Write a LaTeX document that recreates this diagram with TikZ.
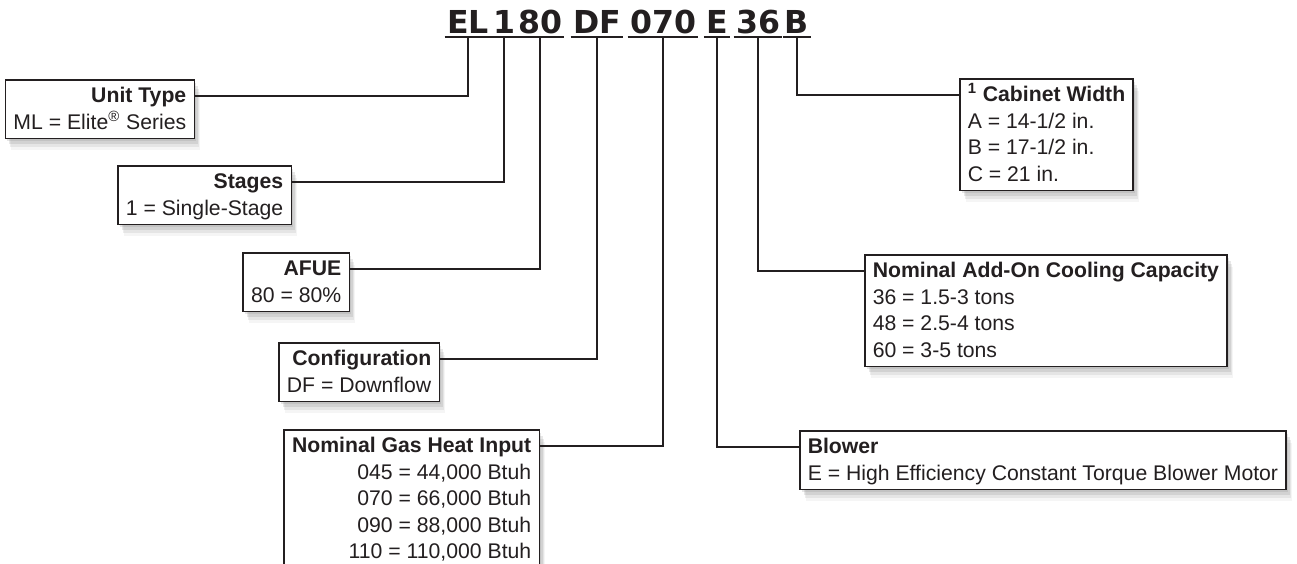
\documentclass[tikz,border=0pt]{standalone}
\usepackage{fontspec}
\setmainfont{Liberation Sans}
\newfontfamily\codefont{DejaVu Sans}
\usetikzlibrary{shadows}
\definecolor{ink}{HTML}{231F20}
\newcommand{\rcol}[1]{\begin{tabular}[t]{@{}r@{}}#1\end{tabular}}
\newcommand{\lcol}[1]{\begin{tabular}[t]{@{}l@{}}#1\end{tabular}}

\tikzset{
  infobox/.style={draw=ink, line width=0.75pt, fill=white, text=ink,
    inner xsep=4pt, inner ysep=0pt, text height=11.5pt,
    font=\fontsize{10.6pt}{13.25pt}\selectfont,
    drop shadow={shadow xshift=1pt, shadow yshift=-1.5pt, opacity=.2},
    drop shadow={shadow xshift=2pt, shadow yshift=-3pt, opacity=.18},
    drop shadow={shadow xshift=2.5pt, shadow yshift=-4.5pt, opacity=.14},
    drop shadow={shadow xshift=3pt, shadow yshift=-6pt, opacity=.08}},
  leftbox/.style={infobox, anchor=north east},
  rightbox/.style={infobox, anchor=north west},
  code/.style={font=\codefont\bfseries\fontsize{15.8pt}{16pt}\selectfont,
    text=ink, inner xsep=1pt, inner ysep=0pt, anchor=base},
  link/.style={draw=ink, line width=1pt}
}

\begin{document}
\begin{tikzpicture}[x=0.5pt, y=-0.5pt]
  \useasboundingbox (0,0) rectangle (1297,563);

  \foreach \n/\t/\x in {c1/EL/468, c2/1/504, c3/80/540, c4/DF/597,
                        c5/070/663, c6/E/717, c7/36/758, c8/B/797}
    \node[code] (\n) at (\x,33) {\t};
  \foreach \n in {c1,c2,c3,c4,c5,c6,c7,c8}
    \draw[link] ([yshift=-2pt]\n.base west) -- ([yshift=-2pt]\n.base east);

  \node[leftbox, text depth=17.75pt] (unit) at (195,79)
    {\rcol{\textbf{Unit Type}\\ML = Elite\textsuperscript{\textregistered} Series}};
  \node[leftbox, text depth=17.75pt] (stages) at (292,165)
    {\rcol{\textbf{Stages}\\1 = Single-Stage}};
  \node[leftbox, text depth=17.75pt] (afue) at (350,252)
    {\rcol{\textbf{AFUE}\\80 = 80\%}};
  \node[leftbox, text depth=17.75pt] (config) at (440,342)
    {\rcol{\textbf{Configuration}\\DF = Downflow}};
  \node[leftbox, text depth=57.5pt] (gas) at (540,429)
    {\rcol{\textbf{Nominal Gas Heat Input}\\045 = 44,000 Btuh\\070 = 66,000 Btuh\\090 = 88,000 Btuh\\110 = 110,000 Btuh}};

  \node[rightbox, text depth=17.75pt] (blower) at (799,430)
    {\lcol{\textbf{Blower}\\E = High Efficiency Constant Torque Blower Motor}};
  \node[rightbox, text depth=44.25pt] (addon) at (864,254)
    {\lcol{\textbf{Nominal Add-On Cooling Capacity}\\36 = 1.5-3 tons\\48 = 2.5-4 tons\\60 = 3-5 tons}};
  \node[rightbox, text depth=44.25pt] (cabinet) at (959,78)
    {\lcol{\textbf{\textsuperscript{1} Cabinet Width}\\A = 14-1/2 in.\\B = 17-1/2 in.\\C = 21 in.}};

  \foreach \c/\b in {c1/unit, c2/stages, c3/afue, c4/config, c5/gas}
    \draw[link] ([yshift=-2pt]\c.base) |- ([yshift=-8.5pt]\b.north east);
  \foreach \c/\b in {c6/blower, c7/addon, c8/cabinet}
    \draw[link] ([yshift=-2pt]\c.base) |- ([yshift=-8.5pt]\b.north west);
\end{tikzpicture}
\end{document}
